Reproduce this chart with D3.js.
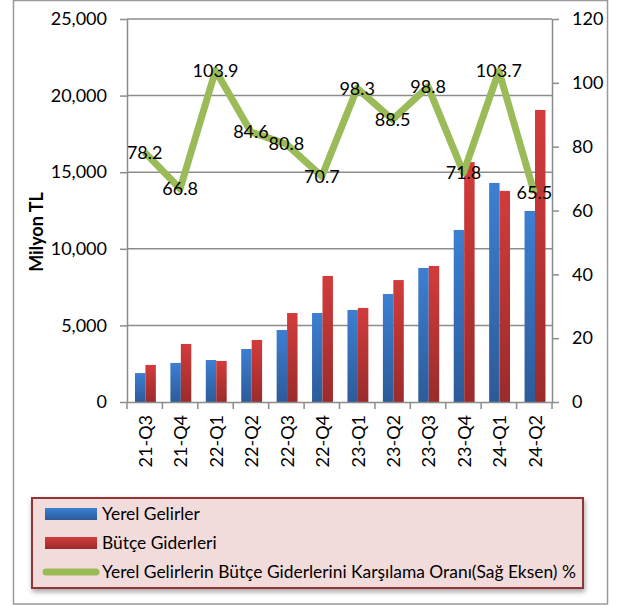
<!DOCTYPE html>
<html>
<head>
<meta charset="utf-8">
<script src="https://cdn.jsdelivr.net/npm/d3@7"></script>
<style>
  body { margin: 0; background: #fff; }
  text { font-family: Lato, "Open Sans", sans-serif; fill: #000; }
</style>
</head>
<body>
<svg width="617" height="606"></svg>
<script>
// quarters, two bar series (milyon TL) and the ratio line (%)
var quarters = ["21-Q3","21-Q4","22-Q1","22-Q2","22-Q3","22-Q4","23-Q1","23-Q2","23-Q3","23-Q4","24-Q1","24-Q2"];
var yerelGelirler = [1890, 2550, 2740, 3460, 4700, 5810, 6010, 7050, 8750, 11230, 14300, 12470];
var butceGiderleri = [2420, 3790, 2680, 4050, 5810, 8230, 6140, 7960, 8880, 15660, 13780, 19060];
var oran = [78.2, 66.8, 103.9, 84.6, 80.8, 70.7, 98.3, 88.5, 98.8, 71.8, 103.7, 65.5];
var leftTicks = [0, 5000, 10000, 15000, 20000, 25000];
var rightTicks = [0, 20, 40, 60, 80, 100, 120];
var legendNames = ["Yerel Gelirler", "Bütçe Giderleri", "Yerel Gelirlerin Bütçe Giderlerini Karşılama Oranı(Sağ Eksen) %"];

var svg = d3.select("svg");
var L = 127, R = 552, T = 19, B = 402;
var grid = "#8c8c8c";

var defs = svg.append("defs");
function grad(id, top, bot){
  var g = defs.append("linearGradient").attr("id", id)
    .attr("x1", 0).attr("y1", 0).attr("x2", 0).attr("y2", 1);
  g.append("stop").attr("offset", "0%").attr("stop-color", top);
  g.append("stop").attr("offset", "100%").attr("stop-color", bot);
}
grad("gBlue", "#3d7fd2", "#2c5b99");
grad("gRed", "#d23c3b", "#9b2b2b");
var sh = defs.append("filter").attr("id", "shadow")
  .attr("x", "-5%").attr("y", "-10%").attr("width", "110%").attr("height", "130%");
sh.append("feDropShadow").attr("dx", 1).attr("dy", 3).attr("stdDeviation", 2.5)
  .attr("flood-color", "#000").attr("flood-opacity", 0.35);

// outer frame
svg.append("rect").attr("x", 13.5).attr("y", 0.5).attr("width", 594).attr("height", 603.5)
  .attr("fill", "#fff").attr("stroke", "#9a9a9a").attr("stroke-width", 1.5);

var x0 = d3.scaleBand().domain(quarters).range([L, R]);
var bw = x0.bandwidth();
var x1 = d3.scaleBand().domain([0, 1]).range([bw * 0.225, bw * 0.815]);
var yL = d3.scaleLinear().domain([0, 25000]).range([B, T]);
var yR = d3.scaleLinear().domain([0, 120]).range([B, T]);

// gridlines
svg.append("g").selectAll("line").data(leftTicks.slice(1)).enter().append("line")
  .attr("x1", L).attr("x2", R)
  .attr("y1", function(d){ return yL(d); }).attr("y2", function(d){ return yL(d); })
  .attr("stroke", grid).attr("stroke-width", 1.5);

// bars
var series = [yerelGelirler, butceGiderleri];
var fills = ["url(#gBlue)", "url(#gRed)"];
var barG = svg.append("g");
series.forEach(function(vals, s){
  barG.selectAll(".b" + s).data(vals).enter().append("rect")
    .attr("x", function(d, i){ return x0(quarters[i]) + x1(s); })
    .attr("width", x1.bandwidth())
    .attr("y", function(d){ return yL(d); })
    .attr("height", function(d){ return B - yL(d); })
    .attr("fill", fills[s]);
});

// axes
var axL = svg.append("g").attr("transform", "translate(" + L + ",0)")
  .call(d3.axisLeft(yL).tickValues(leftTicks).tickSize(7).tickSizeOuter(0).tickPadding(13)
    .tickFormat(d3.format(",")));
var axR = svg.append("g").attr("transform", "translate(" + R + ",0)")
  .call(d3.axisRight(yR).tickValues(rightTicks).tickSize(7).tickSizeOuter(0).tickPadding(13));
var axB = svg.append("g").attr("transform", "translate(0," + B + ")")
  .call(d3.axisBottom(x0).tickSize(0).tickSizeOuter(0).tickFormat(""));
axB.selectAll(".tick").remove();
axB.selectAll("line.sep").data(d3.range(quarters.length + 1)).enter().append("line")
  .attr("class", "sep")
  .attr("x1", function(i){ return L + i * bw; }).attr("x2", function(i){ return L + i * bw; })
  .attr("y1", 0).attr("y2", 7);
[axL, axR, axB].forEach(function(a){
  a.selectAll("path.domain").attr("stroke", grid).attr("stroke-width", 1.5);
  a.selectAll("line").attr("stroke", grid).attr("stroke-width", 1.5);
  a.selectAll("text").style("font-size", "18px").attr("fill", "#000");
});

// rotated category labels
svg.append("g").selectAll("text").data(quarters).enter().append("text")
  .attr("transform", function(d){ return "translate(" + (x0(d) + bw / 2 + 1) + ",415) rotate(-90)"; })
  .attr("text-anchor", "end").attr("dy", "0.35em")
  .style("font-size", "18px")
  .text(function(d){ return d; });

// y title
svg.append("text").attr("transform", "translate(37,232) rotate(-90)")
  .attr("text-anchor", "middle").attr("dy", "0.35em")
  .style("font-size", "18px").style("font-weight", "bold")
  .text("Milyon TL");

// ratio line
var line = d3.line()
  .x(function(d, i){ return x0(quarters[i]) + bw / 2; })
  .y(function(d){ return yR(d); });
svg.append("path").datum(oran).attr("d", line)
  .attr("fill", "none").attr("stroke", "#9bbb59").attr("stroke-width", 7)
  .attr("stroke-linejoin", "round");

svg.append("g").selectAll("text").data(oran).enter().append("text")
  .attr("x", function(d, i){ return x0(quarters[i]) + bw / 2; })
  .attr("y", function(d){ return yR(d); })
  .attr("dy", "0.35em").attr("text-anchor", "middle")
  .style("font-size", "18px")
  .text(function(d){ return d3.format(".1f")(d); });

// legend
var lg = svg.append("g");
lg.append("rect").attr("x", 32).attr("y", 498).attr("width", 551).attr("height", 90)
  .attr("fill", "#f2dcdb").attr("stroke", "#943634").attr("stroke-width", 2)
  .attr("filter", "url(#shadow)");
var rows = lg.selectAll("g").data(legendNames).enter().append("g")
  .attr("transform", function(d, i){ return "translate(0," + (514 + i * 29) + ")"; });
rows.each(function(d, i){
  var g = d3.select(this);
  if (i < 2) {
    g.append("rect").attr("x", 45).attr("y", -6).attr("width", 52).attr("height", 12)
      .attr("fill", fills[i]);
  } else {
    g.append("line").attr("x1", 46).attr("x2", 96).attr("y1", 0).attr("y2", 0)
      .attr("stroke", "#9bbb59").attr("stroke-width", 7).attr("stroke-linecap", "round");
  }
  g.append("text").attr("x", 102).attr("dy", "0.35em")
    .style("font-size", "17.4px").text(d);
});
</script>
</body>
</html>
